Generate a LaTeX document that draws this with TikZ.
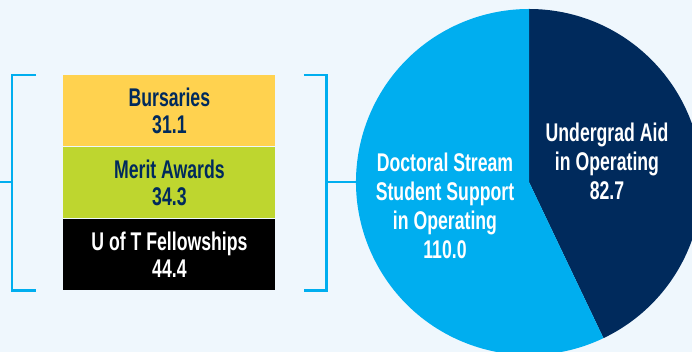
\documentclass[tikz,border=0pt]{standalone}
\usepackage{fontspec}
\newfontfamily\condfont[FakeStretch=0.69]{Liberation Sans}
\usetikzlibrary{positioning}
\definecolor{bgblue}{HTML}{EFF7FD}
\definecolor{navy}{HTML}{002A5C}
\definecolor{skyblue}{HTML}{00AEEF}
\definecolor{gold}{HTML}{FFD24F}
\definecolor{lime}{HTML}{BED62F}

\begin{document}
\begin{tikzpicture}[x=0.5pt,y=0.5pt,node distance=0pt,
  box/.style={minimum width=106pt,minimum height=35.5pt,inner sep=0pt,align=center,text=navy,
    font=\condfont\bfseries\fontsize{12.8}{13.4}\selectfont},
  pielabel/.style={align=center,text=white,inner sep=0pt,
    font=\condfont\bfseries\fontsize{12.8}{14.5}\selectfont},
  bracket/.style={draw=skyblue,line width=1.4pt}]

\useasboundingbox (0,0) rectangle (692,352);
\fill[bgblue] (0,0) rectangle (692,352);
\clip (0,0) rectangle (692,352);

% stacked bar
\node[box,fill=gold,anchor=north west] (bursaries) at (63,277) {Bursaries\\31.1};
\node[box,fill=lime,below=of bursaries] (merit) {Merit Awards\\34.3};
\node[box,fill=black,text=white,below=of merit] (fellow) {U of T Fellowships\\44.4};

% pie
\coordinate (pc) at (529,170);
\coordinate (pieleft) at (356,170);
\fill[navy] (pc) -- ++(90:173) arc[start angle=90,end angle=-64.5,radius=173] -- cycle;
\fill[skyblue] (pc) -- ++(-64.5:173) arc[start angle=-64.5,end angle=-270,radius=173] -- cycle;

\node[pielabel] (ugrad) at (607,191) {Undergrad Aid\\in Operating\\82.7};
\node[pielabel] (doctoral) at (445,146) {Doctoral Stream\\Student Support\\in Operating\\110.0};

% brackets
\coordinate (lstub) at (0,170);
\coordinate (lmid) at (12,170);
\coordinate (rmid) at (326,170);
\draw[bracket] ([xshift=-13.5pt]bursaries.north west) -| ([xshift=-25.5pt]fellow.south west) -- ([xshift=-13.5pt]fellow.south west);
\draw[bracket] ([xshift=14pt]bursaries.north east) -| ([xshift=25.5pt]fellow.south east) -- ([xshift=14pt]fellow.south east);
\draw[bracket] (lstub) -- (lmid);
\draw[bracket] (rmid) -- (pieleft);

\end{tikzpicture}
\end{document}
